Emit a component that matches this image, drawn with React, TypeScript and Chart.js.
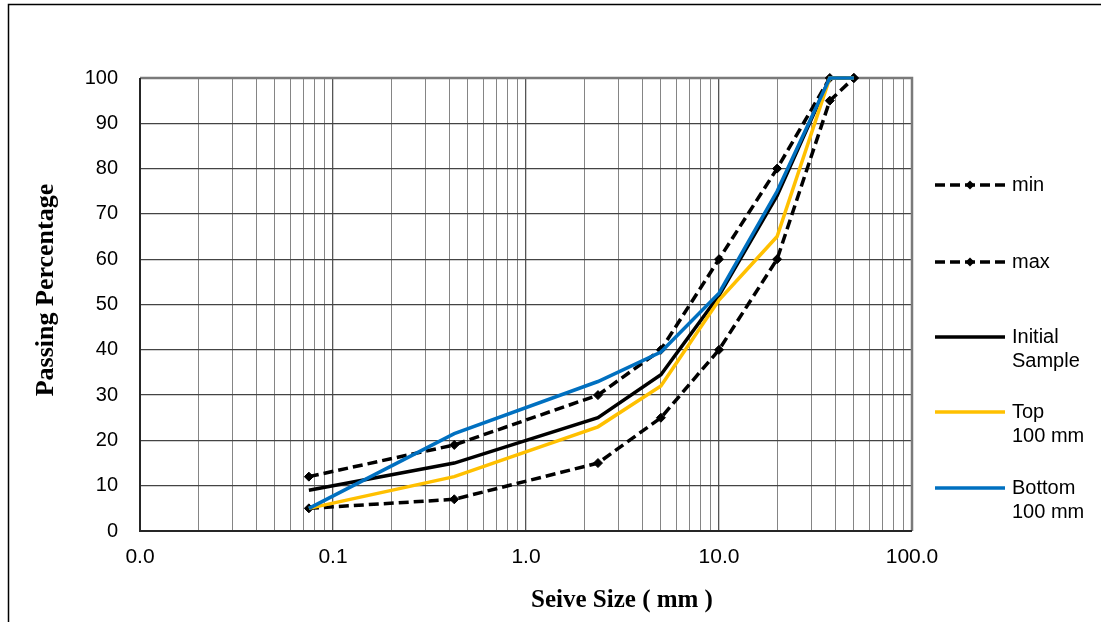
import React, { useEffect, useRef } from "react";
import { Chart, registerables } from "chart.js";

Chart.register(...registerables);

// Sieve openings (mm) and passing percentages for each curve
const sieveSizes = [0.075, 0.425, 2.36, 5, 10, 20, 37.5, 50];
const minLimit = [5, 7, 15, 25, 40, 60, 95, 100];
const maxLimit = [12, 19, 30, 40, 60, 80, 100, 100];
const initialSample = [9, 15, 25, 34.5, 52, 74, 100, 100];
const top100 = [5, 12, 23, 32, 51, 65, 100, 100];
const bottom100 = [5, 21.5, 33, 39.5, 52.5, 75, 100, 100];

const yTicks = [0, 10, 20, 30, 40, 50, 60, 70, 80, 90, 100];
const xDecades = [0.01, 0.1, 1, 10, 100];

const legendItems = [
  { lines: ["min"], color: "#000000", dashed: true },
  { lines: ["max"], color: "#000000", dashed: true },
  { lines: ["Initial", "Sample"], color: "#000000", dashed: false },
  { lines: ["Top", "100 mm"], color: "#FFC000", dashed: false },
  { lines: ["Bottom", "100 mm"], color: "#0070C0", dashed: false },
];

const SANS = "'Liberation Sans', Arial, sans-serif";
const SERIF = "'Liberation Serif', 'Times New Roman', serif";

const toPoints = (vals: number[]) => vals.map((v, i) => ({ x: sieveSizes[i], y: v }));

const isDecade = (v: number) => Math.abs(Math.log10(v) - Math.round(Math.log10(v))) < 1e-9;

const decorations = {
  id: "decorations",
  beforeDraw(chart: any) {
    const { ctx, width, height } = chart;
    ctx.save();
    ctx.fillStyle = "#ffffff";
    ctx.fillRect(0, 0, width, height);
    // outer frame
    ctx.strokeStyle = "#000000";
    ctx.lineWidth = 1.5;
    ctx.beginPath();
    ctx.moveTo(8.5, height + 2);
    ctx.lineTo(8.5, 4.5);
    ctx.lineTo(width + 2, 4.5);
    ctx.stroke();
    ctx.restore();
  },
  beforeDatasetsDraw(chart: any) {
    const { ctx, chartArea: a } = chart;
    ctx.save();
    ctx.lineWidth = 2.5;
    ctx.strokeStyle = "#7a7a7a";
    ctx.beginPath();
    ctx.moveTo(a.left, a.top);
    ctx.lineTo(a.right, a.top);
    ctx.lineTo(a.right, a.bottom);
    ctx.stroke();
    ctx.strokeStyle = "#262626";
    ctx.lineWidth = 2;
    ctx.beginPath();
    ctx.moveTo(a.left, a.top);
    ctx.lineTo(a.left, a.bottom);
    ctx.lineTo(a.right, a.bottom);
    ctx.stroke();
    ctx.restore();
  },
  afterDraw(chart: any) {
    const { ctx } = chart;
    ctx.save();
    ctx.fillStyle = "#000000";
    // axis titles
    ctx.font = `bold 25px ${SERIF}`;
    ctx.textAlign = "center";
    ctx.textBaseline = "middle";
    ctx.fillText("Seive Size ( mm )", 622, 601);
    ctx.save();
    ctx.translate(46, 290);
    ctx.rotate(-Math.PI / 2);
    ctx.font = `bold 26px ${SERIF}`;
    ctx.fillText("Passing Percentage", 0, 0);
    ctx.restore();

    // legend
    const rowY = [185, 262, 337, 412, 488];
    const x0 = 935;
    const x1 = 1005;
    ctx.font = `20px ${SANS}`;
    ctx.textAlign = "left";
    legendItems.forEach((item, i) => {
      const y = rowY[i];
      ctx.strokeStyle = item.color;
      ctx.lineWidth = 3.5;
      ctx.setLineDash(item.dashed ? [10, 5] : []);
      ctx.beginPath();
      ctx.moveTo(x0, y);
      ctx.lineTo(x1, y);
      ctx.stroke();
      ctx.setLineDash([]);
      if (item.dashed) {
        const cx = (x0 + x1) / 2;
        ctx.fillStyle = item.color;
        ctx.beginPath();
        ctx.moveTo(cx, y - 4.5);
        ctx.lineTo(cx + 4.5, y);
        ctx.lineTo(cx, y + 4.5);
        ctx.lineTo(cx - 4.5, y);
        ctx.closePath();
        ctx.fill();
      }
      ctx.fillStyle = "#000000";
      item.lines.forEach((t, j) => ctx.fillText(t, 1012, y + j * 24));
    });
    ctx.restore();
  },
};

export default function App() {
  const canvasRef = useRef<HTMLCanvasElement | null>(null);

  useEffect(() => {
    const canvas = canvasRef.current;
    if (!canvas) return;

    const limitStyle = {
      borderColor: "#000000",
      backgroundColor: "#000000",
      borderWidth: 3.5,
      borderDash: [10, 5],
      pointStyle: "rectRot",
      pointRadius: 4.5,
      pointBorderWidth: 1,
      pointBackgroundColor: "#000000",
      pointBorderColor: "#000000",
      fill: false,
      tension: 0,
      clip: false,
    };
    const solidStyle = {
      borderWidth: 3.5,
      pointRadius: 0,
      fill: false,
      tension: 0,
      clip: false,
    };

    const chart = new Chart(canvas, {
      type: "line",
      data: {
        datasets: [
          { ...limitStyle, label: "min", data: toPoints(minLimit), order: 4 },
          { ...limitStyle, label: "max", data: toPoints(maxLimit), order: 3 },
          {
            ...solidStyle,
            label: "Initial Sample",
            data: toPoints(initialSample),
            borderColor: "#000000",
            backgroundColor: "#000000",
            order: 2,
          },
          {
            ...solidStyle,
            label: "Top 100 mm",
            data: toPoints(top100),
            borderColor: "#FFC000",
            backgroundColor: "#FFC000",
            order: 1,
          },
          {
            ...solidStyle,
            label: "Bottom 100 mm",
            data: toPoints(bottom100),
            borderColor: "#0070C0",
            backgroundColor: "#0070C0",
            order: 0,
          },
        ],
      } as any,
      options: {
        responsive: false,
        animation: false,
        devicePixelRatio: 1,
        layout: { padding: { top: 78, right: 189, bottom: 0, left: 0 } },
        plugins: {
          legend: { display: false },
          tooltip: { enabled: false },
          title: { display: false },
        },
        scales: {
          x: {
            type: "logarithmic",
            min: 0.01,
            max: 100,
            afterFit: (scale: any) => {
              scale.height = 91;
            },
            afterBuildTicks: (scale: any) => {
              const ticks: { value: number }[] = [];
              for (let d = 0; d < xDecades.length - 1; d++) {
                for (let m = 1; m <= 9; m++) {
                  ticks.push({ value: +(xDecades[d] * m).toPrecision(6) });
                }
              }
              ticks.push({ value: xDecades[xDecades.length - 1] });
              scale.ticks = ticks;
            },
            border: { display: false },
            grid: {
              drawTicks: false,
              color: (c: any) => (c.tick && isDecade(c.tick.value) ? "#555555" : "#858585"),
              lineWidth: (c: any) => (c.tick && isDecade(c.tick.value) ? 1.3 : 1),
            },
            ticks: {
              autoSkip: false,
              maxRotation: 0,
              minRotation: 0,
              padding: 14,
              color: "#000000",
              font: { family: SANS, size: 21 },
              callback: (v: any) => (isDecade(Number(v)) ? Number(v).toFixed(1) : ""),
            },
          },
          y: {
            type: "linear",
            min: 0,
            max: 100,
            afterFit: (scale: any) => {
              scale.width = 140;
            },
            afterBuildTicks: (scale: any) => {
              scale.ticks = yTicks.map((v) => ({ value: v }));
            },
            border: { display: false },
            grid: {
              drawTicks: false,
              color: "#444444",
              lineWidth: 1.3,
            },
            ticks: {
              padding: 22,
              color: "#000000",
              font: { family: SANS, size: 20 },
            },
          },
        },
      } as any,
      plugins: [decorations],
    });

    return () => chart.destroy();
  }, []);

  return (
    <canvas
      ref={canvasRef}
      width={1101}
      height={622}
      style={{ position: "absolute", left: 0, top: 0, width: 1101, height: 622 }}
    />
  );
}
